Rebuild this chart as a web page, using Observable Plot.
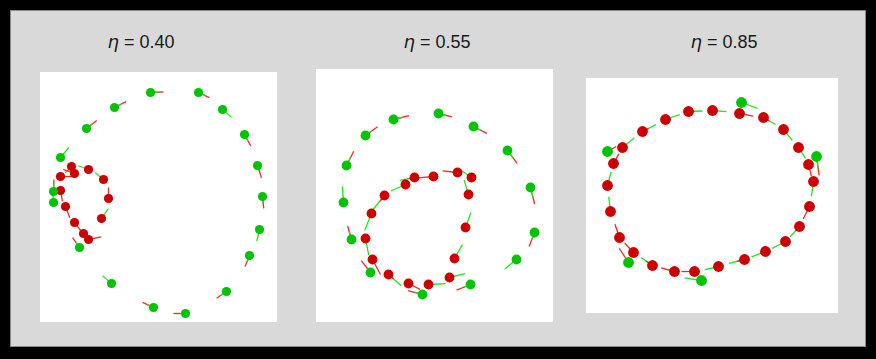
<!DOCTYPE html>
<html>
<head>
<meta charset="utf-8">
<script src="https://cdn.jsdelivr.net/npm/d3@7"></script>
<script src="https://cdn.jsdelivr.net/npm/@observablehq/plot@0.6"></script>
<style>
  html, body { margin: 0; padding: 0; }
  body { background: #000; width: 876px; height: 359px; overflow: hidden; position: relative;
         font-family: "Liberation Sans", Arial, sans-serif; }
  #fig { position: absolute; left: 10px; top: 10px; width: 854px; height: 335px;
         background: #d9d9d9; border: 1px solid #8a8a8a; }
  .title { position: absolute; font-size: 18px; line-height: 18px; color: #1a1a1a;
           transform: translateX(-50%); white-space: nowrap; }
  .title i { font-family: "DejaVu Sans", sans-serif; font-style: italic; }
  .panel { position: absolute; }
  .panel svg { display: block; }
</style>
</head>
<body>
<div id="fig"></div>
<div id="root"></div>
<script>
// Panel titles (coupling strength eta)
const etaLabels = ["0.40", "0.55", "0.85"];

// Each row: [x, y, state ("G" = green / "R" = red), heading in degrees, green tail length, red tail length]
// x, y are positions inside each panel's frame (frame units, y downward)
const eta040 = [
  [110, 20, "G", -3, 8, 13],
  [158, 20, "G", 25, 7, 12],
  [182, 37, "G", 41, 12, 0],
  [204, 62, "G", 61, 7, 13],
  [217, 93, "G", 72, 6, 13],
  [222, 124, "G", 84, 6, 12],
  [219, 157, "G", 103, 12, 0],
  [209, 183, "G", 112, 6, 12],
  [186, 219, "G", 146, 6, 12],
  [145, 241, "G", 180, 5, 12],
  [113, 235, "G", 205, 7, 12],
  [71, 211, "G", 221, 12, 0],
  [39, 175, "G", 235, 7, 12],
  [13, 130, "G", 265, 10, 0],
  [13, 119, "G", 272, 8, 12],
  [20, 85, "G", 310, 13, 0],
  [46, 56, "G", 322, 7, 13],
  [74, 35, "G", 333, 7, 13],
  [31, 94, "R", 135, 9, 0],
  [34, 101, "R", 200, 4, 12],
  [48, 97, "R", 200, 11, 0],
  [63, 107, "R", 220, 11, 0],
  [68, 126, "R", 270, 4, 11],
  [61, 146, "R", 305, 12, 0],
  [20, 104, "R", 0, 4, 13],
  [20, 118, "R", 80, 4, 11],
  [25, 134, "R", 69, 5, 12],
  [34, 150, "R", 52, 4, 10],
  [43, 161, "R", 40, 4, 8],
  [48, 167, "R", 348, 5, 13]
];

const eta055 = [
  [122, 44, "G", 14, 8, 14],
  [157, 57, "G", 27, 8, 15],
  [191, 81, "G", 53, 9, 16],
  [214, 118, "G", 76, 9, 17],
  [218, 163, "G", 111, 8, 15],
  [200, 190, "G", 141, 15, 0],
  [154, 215, "G", 158, 7, 15],
  [106, 225, "G", 195, 8, 15],
  [54, 203, "G", 232, 6, 15],
  [35, 170, "G", 254, 8, 14],
  [27, 133, "G", 266, 16, 0],
  [30, 96, "G", 297, 9, 16],
  [49, 66, "G", 324, 8, 15],
  [77, 50, "G", 346, 9, 16],
  [141, 103, "R", 186, 5, 15],
  [155, 108, "R", 215, 14, 0],
  [152, 125, "R", 253, 15, 0],
  [149, 158, "R", 290, 16, 0],
  [138, 189, "R", 300, 16, 0],
  [133, 208, "R", 346, 16, 0],
  [112, 215, "R", 357, 17, 0],
  [92, 214, "R", 27, 4, 13],
  [72, 205, "R", 41, 17, 7],
  [56, 190, "R", 62, 5, 17],
  [49, 169, "R", 79, 17, 0],
  [55, 144, "R", 112, 18, 0],
  [68, 126, "R", 129, 19, 7],
  [89, 115, "R", 156, 16, 0],
  [98, 108, "R", 169, 15, 6],
  [117, 107, "R", 175, 4, 15]
];

const eta085 = [
  [102, 33, "R", 358, 14, 6],
  [126, 32, "R", 5, 14, 5],
  [153, 35, "R", 11, 5, 14],
  [177, 39, "R", 30, 14, 7],
  [197, 51, "R", 51, 14, 5],
  [212, 69, "R", 57, 13, 0],
  [222, 86, "R", 76, 4, 12],
  [227, 103, "R", 98, 15, 0],
  [223, 128, "R", 117, 5, 14],
  [213, 148, "R", 132, 14, 6],
  [199, 163, "R", 153, 15, 0],
  [179, 173, "R", 159, 15, 6],
  [158, 181, "R", 166, 16, 8],
  [132, 188, "R", 167, 14, 0],
  [108, 193, "R", 180, 4, 13],
  [88, 193, "R", 195, 6, 14],
  [66, 187, "R", 215, 14, 8],
  [47, 174, "R", 227, 4, 13],
  [33, 159, "R", 251, 5, 14],
  [24, 133, "R", 263, 15, 0],
  [21, 107, "R", 285, 14, 0],
  [27, 85, "R", 299, 4, 11],
  [36, 69, "R", 321, 15, 0],
  [56, 53, "R", 333, 15, 7],
  [79, 41, "R", 341, 15, 0],
  [155, 24, "G", 20, 17, 0],
  [230, 78, "G", 82, 12, 19],
  [21, 73, "G", 330, 3, 10],
  [42, 184, "G", 237, 6, 17],
  [115, 202, "G", 189, 17, 0]
];

const DOT_G = "#00c400", DOT_R = "#cc0000";
const TAIL_G = "#1ee61e", TAIL_R = "#f02828";

const panels = [
  {rows: eta040, left: 40, top: 72, w: 237, h: 250, r: 4.6, tx: 141},
  {rows: eta055, left: 316, top: 69, w: 237, h: 253, r: 4.9, tx: 437},
  {rows: eta085, left: 586, top: 78, w: 252, h: 235, r: 5.4, tx: 724}
];

const rad = d => d * Math.PI / 180;
function segs(rows, pass) {
  return rows.flatMap(([x, y, s, h, g, r]) => {
    const parts = [{len: g, c: TAIL_G}, {len: r, c: TAIL_R}].sort((a, b) => b.len - a.len);
    const p = parts[pass];
    if (!p.len) return [];
    return [{x1: x, y1: y, x2: x + p.len * Math.cos(rad(h)), y2: y + p.len * Math.sin(rad(h)), c: p.c}];
  });
}

const root = document.getElementById("root");
panels.forEach((p, i) => {
  const t = document.createElement("div");
  t.className = "title";
  t.style.left = p.tx + "px";
  t.style.top = "33px";
  t.innerHTML = "<i>η</i> = " + etaLabels[i];
  root.appendChild(t);

  const reds = p.rows.filter(d => d[2] === "R");
  const greens = p.rows.filter(d => d[2] === "G");
  const chart = Plot.plot({
    width: p.w, height: p.h, margin: 0,
    style: {background: "white", overflow: "visible"},
    x: {domain: [0, p.w], range: [0, p.w], axis: null},
    y: {domain: [0, p.h], range: [0, p.h], axis: null},
    color: {type: "identity"},
    marks: [
      Plot.link(segs(p.rows, 0), {x1: "x1", y1: "y1", x2: "x2", y2: "y2", stroke: "c", strokeWidth: 1.3}),
      Plot.link(segs(p.rows, 1), {x1: "x1", y1: "y1", x2: "x2", y2: "y2", stroke: "c", strokeWidth: 1.3}),
      Plot.dot(reds, {x: d => d[0], y: d => d[1], r: p.r, fill: DOT_R, stroke: "none"}),
      Plot.dot(greens, {x: d => d[0], y: d => d[1], r: p.r, fill: DOT_G, stroke: "none"})
    ]
  });
  const holder = document.createElement("div");
  holder.className = "panel";
  holder.style.left = p.left + "px";
  holder.style.top = p.top + "px";
  holder.appendChild(chart);
  root.appendChild(holder);
});
</script>
</body>
</html>
